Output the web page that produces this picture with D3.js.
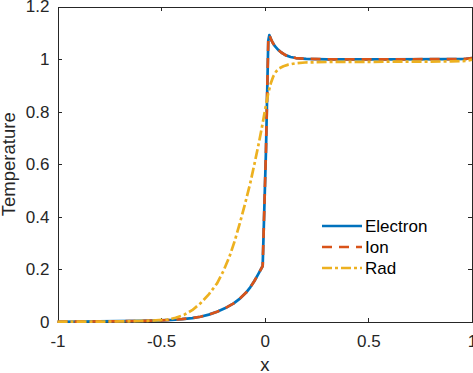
<!DOCTYPE html>
<html>
<head>
<meta charset="utf-8">
<script src="https://d3js.org/d3.v7.min.js"></script>
<style>
  body{
    margin:0;
    background-color:#ffffff;
  }
  .axis text{
    font-family:"Liberation Sans", Arial, sans-serif;
    font-size:17px;
    fill:#262626;
  }
  .axis path, .axis line{
    stroke:#262626;
    stroke-width:1;
    shape-rendering:crispEdges;
  }
  .label{
    font-family:"Liberation Sans", Arial, sans-serif;
    font-size:18.5px;
    fill:#262626;
  }
  .legend text{
    font-family:"Liberation Sans", Arial, sans-serif;
    font-size:17px;
    fill:#000;
  }
</style>
</head>
<body>
<div id="chart"></div>
<script>
// values
var electronX = [-1, -0.8, -0.6, -0.5, -0.45, -0.4, -0.35, -0.31, -0.27, -0.23, -0.19, -0.15, -0.12,
                 -0.09, -0.07, -0.05, -0.03, -0.01, 0.006, 0.017, 0.022, 0.026, 0.032, 0.04, 0.05,
                 0.065, 0.08, 0.1, 0.125, 0.15, 0.2, 0.3, 0.6, 0.9, 0.97, 1];
var electronT = [0.001, 0.002, 0.004, 0.006, 0.008, 0.011, 0.015, 0.02, 0.028, 0.039, 0.053, 0.071, 0.089,
                 0.112, 0.132, 0.156, 0.184, 0.213, 0.655, 1.07, 1.091, 1.084, 1.072, 1.06, 1.048,
                 1.035, 1.025, 1.015, 1.008, 1.004, 1.001, 0.999, 0.999, 1.0, 1.001, 1.004];
var ionX = electronX;
var ionT = electronT;
var radX = [-1, -0.7, -0.55, -0.47, -0.43, -0.39, -0.35, -0.31, -0.27, -0.23, -0.2, -0.17, -0.145, -0.12,
            -0.095, -0.07, -0.05, -0.03, -0.015, 0, 0.017, 0.03, 0.041, 0.055, 0.07, 0.09, 0.114, 0.15,
            0.194, 0.3, 0.6, 0.9, 0.97, 1];
var radT = [0.001, 0.002, 0.005, 0.009, 0.016, 0.027, 0.045, 0.071, 0.105, 0.147, 0.193, 0.249, 0.308, 0.376,
            0.45, 0.528, 0.6, 0.675, 0.735, 0.8, 0.871, 0.91, 0.934, 0.953, 0.965, 0.973, 0.979, 0.984,
            0.987, 0.989, 0.99, 0.991, 0.993, 0.998];

var seriesNames = ["Electron", "Ion", "Rad"];
var seriesColors = ["#0072BD", "#D95319", "#EDB120"];
var seriesDash = [null, "10,7", "10,3,3,3"];

var xTicks = [-1, -0.5, 0, 0.5, 1];
var yTicks = [0, 0.2, 0.4, 0.6, 0.8, 1, 1.2];

var width = 473, height = 373;
var margin = {top: 6.5, right: 1, bottom: 51, left: 57.5};
var w = width - margin.left - margin.right;
var h = height - margin.top - margin.bottom;

var svg = d3.select("#chart").append("svg")
  .attr("width", width)
  .attr("height", height);

var g = svg.append("g")
  .attr("transform", "translate(" + margin.left + "," + margin.top + ")");

var x = d3.scaleLinear().domain([-1, 1]).range([0, w]);
var y = d3.scaleLinear().domain([0, 1.2]).range([h, 0]);

var fmt = function(d){ return String(d); };

// axes, MATLAB style box with inward ticks
g.append("g").attr("class", "x axis")
  .attr("transform", "translate(0," + h + ")")
  .call(d3.axisBottom(x).tickValues(xTicks).tickSizeInner(-4).tickSizeOuter(0).tickPadding(14).tickFormat(fmt));
g.append("g").attr("class", "x axis top")
  .call(d3.axisTop(x).tickValues(xTicks).tickSizeInner(-4).tickSizeOuter(0).tickFormat(""));
g.append("g").attr("class", "y axis")
  .call(d3.axisLeft(y).tickValues(yTicks).tickSizeInner(-4).tickSizeOuter(0).tickPadding(8).tickFormat(fmt));
g.append("g").attr("class", "y axis right")
  .attr("transform", "translate(" + w + ",0)")
  .call(d3.axisRight(y).tickValues(yTicks).tickSizeInner(-4).tickSizeOuter(0).tickFormat(""));

g.selectAll(".x.axis text").attr("dy", "0.65em");

var line = d3.line()
  .x(function(d){ return x(d[0]); })
  .y(function(d){ return y(d[1]); })
  .curve(d3.curveLinear);

var series = [
  d3.zip(electronX, electronT),
  d3.zip(ionX, ionT),
  d3.zip(radX, radT)
];

var plot = g.append("g");
series.forEach(function(s, i){
  plot.append("path")
    .datum(s)
    .attr("fill", "none")
    .attr("stroke", seriesColors[i])
    .attr("stroke-width", 2.7)
    .attr("stroke-linejoin", "round")
    .attr("stroke-dasharray", seriesDash[i])
    .attr("d", line);
});

// axis labels
svg.append("text").attr("class", "label")
  .attr("x", margin.left + w / 2)
  .attr("y", 371)
  .attr("text-anchor", "middle")
  .text("x");
svg.append("text").attr("class", "label")
  .attr("transform", "translate(15," + (margin.top + h / 2) + ") rotate(-90)")
  .attr("text-anchor", "middle")
  .text("Temperature");

// legend
var legend = svg.append("g").attr("class", "legend")
  .attr("transform", "translate(322,226)");
seriesNames.forEach(function(name, i){
  var row = legend.append("g").attr("transform", "translate(0," + (i * 21) + ")");
  row.append("line")
    .attr("x1", 0).attr("x2", 40)
    .attr("stroke", seriesColors[i])
    .attr("stroke-width", 2.7)
    .attr("stroke-dasharray", seriesDash[i]);
  row.append("text")
    .attr("x", 43)
    .attr("dy", "0.35em")
    .text(name);
});
</script>
</body>
</html>
